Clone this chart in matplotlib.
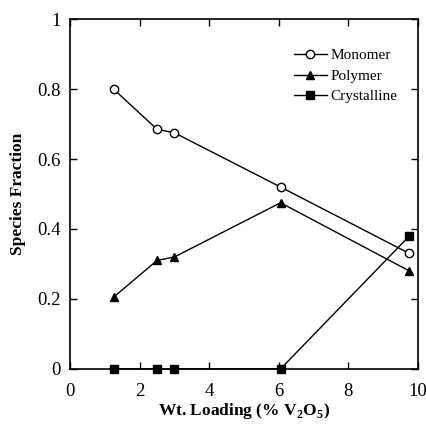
import matplotlib
matplotlib.use("Agg")
import matplotlib.pyplot as plt

x = [1.25, 2.5, 3.0, 6.05, 9.75]
monomer = [0.80, 0.685, 0.675, 0.52, 0.33]
polymer = [0.205, 0.31, 0.32, 0.475, 0.28]
crystalline = [0.0, 0.0, 0.0, 0.0, 0.38]

plt.rcParams['font.family'] = ['Liberation Serif', 'DejaVu Serif']
plt.rcParams['mathtext.fontset'] = 'custom'
plt.rcParams['mathtext.rm'] = 'Liberation Serif:bold'
plt.rcParams['mathtext.bf'] = 'Liberation Serif:bold'

fig = plt.figure(figsize=(4.27, 4.25), dpi=100)
ax = fig.add_axes([0.164, 0.132, 0.815, 0.823])

ax.plot(x, monomer, '-o', color='black', mfc='white', mec='black', ms=6, lw=1, label='Monomer')
ax.plot(x, polymer, '-^', color='black', ms=6, lw=1, label='Polymer')
ax.plot(x, crystalline, '-s', color='black', ms=6, lw=1, label='Crystalline', clip_on=False)

ax.set_xlim(0, 10)
ax.set_ylim(0, 1)
ax.set_xticks([0, 2, 4, 6, 8, 10])
ax.set_yticks([0, 0.2, 0.4, 0.6, 0.8, 1])
ax.set_yticklabels(['0', '0.2', '0.4', '0.6', '0.8', '1'])
ax.tick_params(direction='in', top=True, right=True, length=5, width=1, labelsize=13.5)
ax.tick_params(axis='x', pad=10)
ax.tick_params(axis='y', pad=7)
for s in ax.spines.values():
    s.set_linewidth(1.2)

ax.set_xlabel(r'Wt. Loading (% V$_\mathrm{2}$O$_\mathrm{5}$)', fontsize=12.5, fontweight='bold', labelpad=1)
ax.set_ylabel('Species Fraction', fontsize=12.5, fontweight='bold', labelpad=8)

ax.legend(loc='upper right', bbox_to_anchor=(0.98, 0.955), frameon=False, fontsize=11,
          handlelength=2.2, handletextpad=0.2, labelspacing=0.45)

fig.savefig('out.png', dpi=100)
